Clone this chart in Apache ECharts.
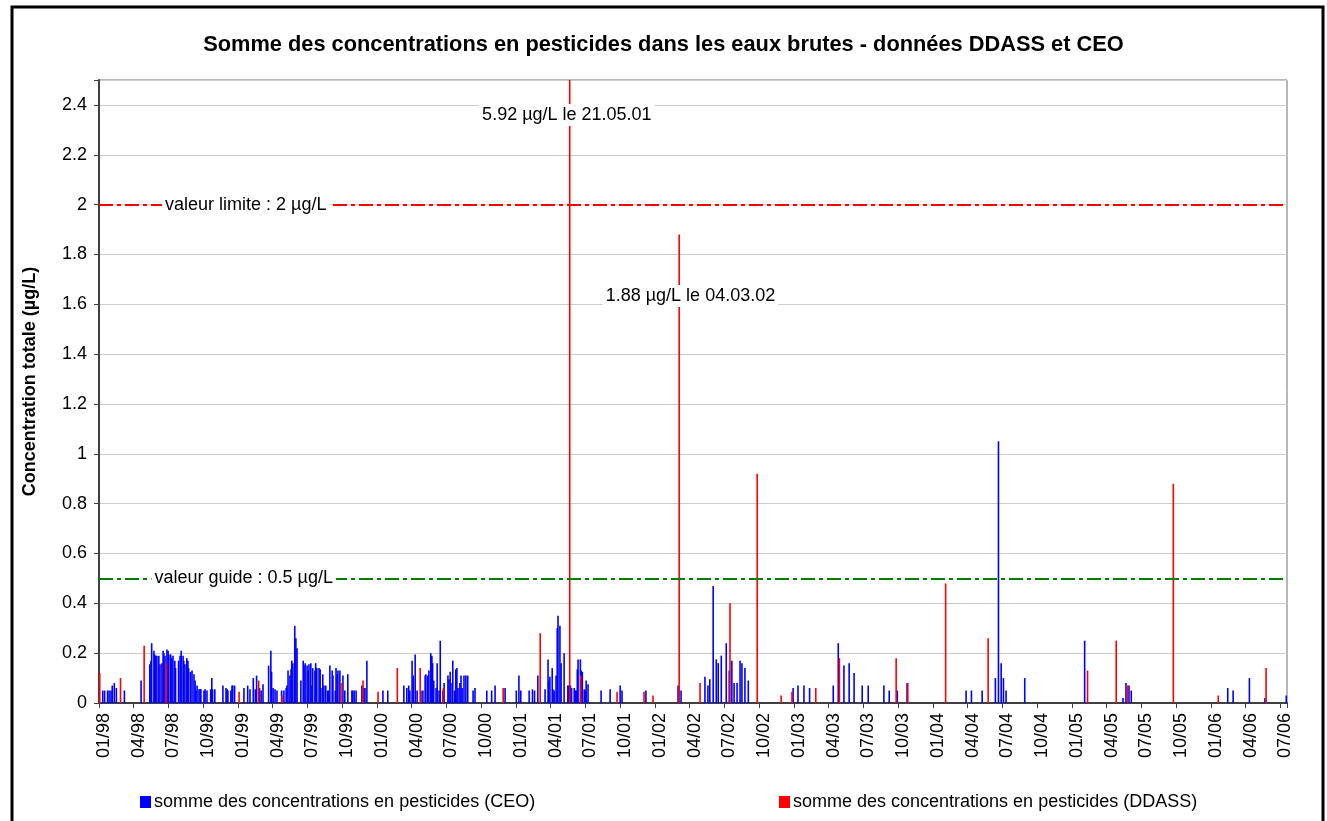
<!DOCTYPE html>
<html>
<head>
<meta charset="utf-8">
<script src="https://cdn.jsdelivr.net/npm/echarts@6/dist/echarts.min.js"></script>
<style>
  html, body { margin: 0; padding: 0; background: #fff; }
  #chart { width: 1327px; height: 821px; }
</style>
</head>
<body>
<div id="chart"></div>
<script>
// sampling dates / summed concentrations (µg/L)
const ceoDates = [
  '1998-01-11','1998-01-16','1998-01-24','1998-01-28','1998-02-02','1998-02-05','1998-02-10','1998-02-15','1998-03-07','1998-04-20',
  '1998-05-13','1998-05-16','1998-05-18','1998-05-24','1998-05-26','1998-05-29','1998-06-01','1998-06-06','1998-06-09','1998-06-14',
  '1998-06-17','1998-06-19','1998-06-22','1998-06-27','1998-06-30','1998-07-02','1998-07-07','1998-07-10','1998-07-13','1998-07-18',
  '1998-07-20','1998-07-28','1998-08-01','1998-08-04','1998-08-09','1998-08-11','1998-08-14','1998-08-19','1998-08-22','1998-08-24',
  '1998-08-29','1998-09-02','1998-09-07','1998-09-10','1998-09-12','1998-09-15','1998-09-20','1998-09-23','1998-09-25','1998-10-03',
  '1998-10-06','1998-10-11','1998-10-21','1998-10-24','1998-10-26','1998-11-01','1998-11-22','1998-11-30','1998-12-03','1998-12-05',
  '1998-12-13','1998-12-16','1998-12-18','1998-12-23','1999-01-17','1999-01-27','1999-02-02','1999-02-10','1999-02-15','1999-02-18',
  '1999-02-25','1999-03-01','1999-03-06','1999-03-21','1999-03-27','1999-03-29','1999-04-02','1999-04-07','1999-04-12','1999-04-24',
  '1999-04-30','1999-05-06','1999-05-08','1999-05-11','1999-05-16','1999-05-19','1999-05-21','1999-05-24','1999-05-29','1999-06-01',
  '1999-06-04','1999-06-14','1999-06-20','1999-06-22','1999-06-25','1999-06-30','1999-07-03','1999-07-05','1999-07-10','1999-07-13',
  '1999-07-15','1999-07-21','1999-07-23','1999-07-26','1999-08-01','1999-08-04','1999-08-06','1999-08-11','1999-08-14','1999-08-19',
  '1999-08-24','1999-08-27','1999-08-30','1999-09-05','1999-09-07','1999-09-13','1999-09-15','1999-09-18','1999-09-20','1999-09-25',
  '1999-10-03','1999-10-08','1999-10-16','1999-10-27','1999-10-29','1999-11-02','1999-11-07','1999-11-22','1999-11-27','1999-11-30',
  '1999-12-05','2000-01-17','2000-01-30','2000-03-11','2000-03-19','2000-03-24','2000-03-27','2000-04-02','2000-04-05','2000-04-10',
  '2000-04-15','2000-04-25','2000-04-30','2000-05-06','2000-05-08','2000-05-13','2000-05-16','2000-05-21','2000-05-24','2000-05-26',
  '2000-05-29','2000-06-04','2000-06-07','2000-06-12','2000-06-15','2000-06-22','2000-06-25','2000-07-05','2000-07-08','2000-07-11',
  '2000-07-16','2000-07-18','2000-07-23','2000-07-26','2000-07-29','2000-08-01','2000-08-06','2000-08-09','2000-08-12','2000-08-17',
  '2000-08-22','2000-08-27','2000-09-10','2000-09-15','2000-10-16','2000-10-29','2000-11-07','2000-12-03','2001-01-02','2001-01-09',
  '2001-01-14','2001-02-05','2001-02-13','2001-02-18','2001-02-26','2001-03-17','2001-03-25','2001-03-27','2001-03-30','2001-04-05',
  '2001-04-07','2001-04-10','2001-04-15','2001-04-18','2001-04-20','2001-04-25','2001-04-28','2001-05-06','2001-05-16','2001-05-18',
  '2001-05-23','2001-05-26','2001-06-02','2001-06-05','2001-06-07','2001-06-10','2001-06-12','2001-06-18','2001-06-20','2001-06-23',
  '2001-06-28','2001-07-01','2001-07-03','2001-07-08','2001-08-12','2001-09-05','2001-10-01','2001-10-06','2001-12-08','2002-03-01',
  '2002-03-09','2002-05-11','2002-05-19','2002-05-24','2002-06-02','2002-06-10','2002-06-15','2002-06-23','2002-07-06','2002-07-14',
  '2002-07-21','2002-07-27','2002-08-04','2002-08-12','2002-08-17','2002-08-25','2002-09-03','2002-12-30','2003-01-12','2003-01-28',
  '2003-02-11','2003-04-13','2003-04-26','2003-05-11','2003-05-25','2003-06-07','2003-06-28','2003-07-14','2003-08-25','2003-09-08',
  '2003-09-29','2003-10-25','2004-03-28','2004-04-11','2004-05-09','2004-06-13','2004-06-21','2004-06-28','2004-07-04','2004-07-11',
  '2004-08-30','2005-02-04','2005-05-14','2005-05-22','2005-05-30','2005-06-05','2006-02-14','2006-02-27','2006-04-11','2006-05-22',
  '2006-07-17'
];
const ceoValues = [
  0.05, 0.05, 0.05, 0.05, 0.05, 0.07, 0.08, 0.06, 0.05, 0.09,
  0.155, 0.17, 0.24, 0.21, 0.195, 0.19, 0.19, 0.19, 0.155, 0.16,
  0.21, 0.20, 0.19, 0.215, 0.21, 0.195, 0.195, 0.18, 0.19, 0.17,
  0.14, 0.17, 0.19, 0.21, 0.19, 0.17, 0.155, 0.18, 0.17, 0.14,
  0.125, 0.13, 0.115, 0.09, 0.05, 0.07, 0.055, 0.055, 0.055, 0.05,
  0.055, 0.05, 0.055, 0.10, 0.055, 0.055, 0.07, 0.06, 0.055, 0.05,
  0.05, 0.07, 0.07, 0.07, 0.06, 0.07, 0.055, 0.10, 0.055, 0.11,
  0.06, 0.05, 0.075, 0.15, 0.21, 0.125, 0.06, 0.055, 0.05, 0.05,
  0.05, 0.06, 0.07, 0.13, 0.11, 0.135, 0.17, 0.16, 0.31, 0.26,
  0.22, 0.09, 0.17, 0.15, 0.16, 0.15, 0.13, 0.155, 0.16, 0.07,
  0.14, 0.13, 0.16, 0.14, 0.14, 0.135, 0.06, 0.115, 0.07, 0.07,
  0.05, 0.05, 0.15, 0.13, 0.11, 0.05, 0.14, 0.115, 0.13, 0.13,
  0.11, 0.05, 0.115, 0.05, 0.05, 0.05, 0.05, 0.07, 0.06, 0.06,
  0.17, 0.05, 0.05, 0.07, 0.06, 0.07, 0.05, 0.17, 0.11, 0.195,
  0.05, 0.05, 0.05, 0.11, 0.115, 0.11, 0.13, 0.20, 0.19, 0.16,
  0.09, 0.06, 0.16, 0.05, 0.25, 0.05, 0.08, 0.11, 0.095, 0.125,
  0.08, 0.17, 0.05, 0.135, 0.14, 0.06, 0.08, 0.11, 0.06, 0.11,
  0.11, 0.11, 0.05, 0.06, 0.05, 0.05, 0.07, 0.06, 0.05, 0.11,
  0.05, 0.05, 0.055, 0.05, 0.11, 0.055, 0.175, 0.09, 0.105, 0.14,
  0.055, 0.05, 0.11, 0.30, 0.35, 0.31, 0.16, 0.20, 0.07, 0.07,
  0.07, 0.06, 0.06, 0.05, 0.05, 0.135, 0.175, 0.175, 0.13, 0.125,
  0.055, 0.05, 0.09, 0.075, 0.05, 0.055, 0.07, 0.05, 0.05, 0.07,
  0.05, 0.105, 0.07, 0.095, 0.47, 0.175, 0.16, 0.19, 0.24, 0.13,
  0.17, 0.08, 0.08, 0.17, 0.16, 0.14, 0.09, 0.06, 0.07, 0.07,
  0.06, 0.07, 0.24, 0.15, 0.16, 0.12, 0.07, 0.07, 0.07, 0.05,
  0.05, 0.08, 0.05, 0.05, 0.05, 0.10, 1.05, 0.16, 0.10, 0.05,
  0.10, 0.25, 0.02, 0.08, 0.07, 0.05, 0.06, 0.05, 0.10, 0.02,
  0.03
];
const ddassDates = [
  '1998-01-03','1998-02-25','1998-04-28','1998-06-25','1999-01-04','1999-02-23','1999-04-25','1999-09-28','1999-11-25','2000-01-04',
  '2000-02-23','2000-04-23','2000-06-23','2000-11-28','2001-03-04','2001-05-21','2001-06-19','2001-09-23','2001-12-03','2001-12-27',
  '2002-03-04','2002-04-28','2002-07-16','2002-09-26','2002-11-28','2002-12-27','2003-02-26','2003-04-29','2003-09-26','2003-10-27',
  '2004-02-04','2004-05-25','2005-02-11','2005-04-26','2005-05-27','2005-09-24','2006-01-21','2006-05-25'
];
const ddassValues = [
  0.12, 0.10, 0.23, 0.16, 0.045, 0.09, 0.03, 0.08, 0.09, 0.045,
  0.14, 0.14, 0.06, 0.06, 0.28, 5.92, 0.11, 0.045, 0.045, 0.03,
  1.88, 0.08, 0.40, 0.92, 0.03, 0.045, 0.06, 0.18, 0.18, 0.08,
  0.48, 0.26, 0.13, 0.25, 0.07, 0.88, 0.03, 0.14
];
const axisStart = '1998-01-01';
const axisEnd = '2006-07-19';
const yTicks = { min: 0, max: 2.5, step: 0.2 };
const limitValue = 2;
const guideValue = 0.5;

const ceoName = 'somme des concentrations en pesticides (CEO)';
const ddassName = 'somme des concentrations en pesticides (DDASS)';
const FONT = 'Liberation Sans, Arial, sans-serif';

// months since 01/98, fractional within the month
function monthIdx(s) {
  const [y, m, d] = s.split('-').map(Number);
  const dim = new Date(Date.UTC(y, m, 0)).getUTCDate();
  return (y - 1998) * 12 + (m - 1) + (d - 1) / dim;
}
const pad = n => (n < 10 ? '0' : '') + n;

const ceoData = ceoDates.map((d, i) => [monthIdx(d), ceoValues[i]]);
const ddassData = ddassDates.map((d, i) => [monthIdx(d), ddassValues[i]]);

const noteLabel = {
  show: true, position: 'inside', color: '#000', fontSize: 18, fontFamily: FONT,
  backgroundColor: '#fff', padding: [2, 3], formatter: p => p.name
};

const chart = echarts.init(document.getElementById('chart'), null, { renderer: 'canvas' });
chart.setOption({
  animation: false,
  backgroundColor: '#fff',
  textStyle: { fontFamily: FONT },
  title: {
    text: 'Somme des concentrations en pesticides dans les eaux brutes - données DDASS et CEO',
    left: 'center', top: 29,
    textStyle: { fontSize: 21.8, fontWeight: 'bold', color: '#000', fontFamily: FONT }
  },
  graphic: [{
    type: 'rect', silent: true,
    shape: { x: 12, y: 7, width: 1311, height: 840 },
    style: { fill: 'none', stroke: '#000', lineWidth: 3 }
  }],
  legend: [
    { data: [ceoName], left: 135, top: 788, icon: 'rect', itemWidth: 11, itemHeight: 12, itemGap: 4,
      textStyle: { fontSize: 18, color: '#000', fontFamily: FONT, padding: [0, 0, 0, -2] } },
    { data: [ddassName], left: 774, top: 788, icon: 'rect', itemWidth: 11, itemHeight: 12, itemGap: 4,
      textStyle: { fontSize: 18, color: '#000', fontFamily: FONT, padding: [0, 0, 0, -2] } }
  ],
  grid: { left: 99, right: 40, top: 80, bottom: 118, show: true, borderColor: '#707070', borderWidth: 1 },
  xAxis: {
    type: 'value',
    min: monthIdx(axisStart), max: monthIdx(axisEnd), interval: 3,
    splitLine: { show: false },
    axisLine: { lineStyle: { color: '#404040', width: 2 } },
    axisTick: { length: 5, lineStyle: { color: '#404040', width: 1 } },
    axisLabel: {
      rotate: 90, margin: 10, fontSize: 18, color: '#000', fontFamily: FONT,
      verticalAlign: 'top', lineHeight: 10,
      formatter: v => {
        if (Math.abs(v - Math.round(v)) > 1e-6) return '';
        const m = Math.round(v);
        return pad(m % 12 + 1) + '/' + pad((1998 + Math.floor(m / 12)) % 100);
      }
    }
  },
  yAxis: {
    type: 'value', min: yTicks.min, max: yTicks.max, interval: yTicks.step,
    name: 'Concentration totale (µg/L)', nameLocation: 'middle', nameGap: 60, nameRotate: 90,
    nameTextStyle: { fontSize: 18, fontWeight: 'bold', color: '#000', fontFamily: FONT, padding: [0, 0, 0, 20] },
    axisLine: { show: true, lineStyle: { color: '#404040', width: 2 } },
    axisTick: { show: true, length: 5, lineStyle: { color: '#404040' } },
    splitLine: { lineStyle: { color: '#cccccc', width: 1 } },
    axisLabel: {
      margin: 12, fontSize: 18, color: '#000', fontFamily: FONT,
      formatter: v => (v > 2.45 ? '' : String(+v.toFixed(1)))
    }
  },
  series: [
    {
      name: ceoName, type: 'bar', data: ceoData,
      barWidth: 1.6, barGap: '-100%',
      itemStyle: { color: '#0000ff' }, z: 2
    },
    {
      name: ddassName, type: 'bar', data: ddassData,
      barWidth: 1.6, barGap: '-100%',
      itemStyle: { color: '#ff0000' }, z: 2
    },
    {
      // reference lines and their notes
      name: 'notes', type: 'line', data: [], z: 4, silent: true,
      markLine: {
        silent: true, symbol: 'none', label: { show: false },
        data: [
          { yAxis: limitValue, lineStyle: { color: '#ff0000', width: 2, type: [14, 4, 4, 4] } },
          { yAxis: guideValue, lineStyle: { color: '#008000', width: 2, type: [14, 4, 4, 4] } }
        ]
      },
      markPoint: {
        silent: true, symbol: 'rect', symbolSize: 1, itemStyle: { color: 'rgba(0,0,0,0)' },
        label: noteLabel,
        data: [
          { name: 'valeur limite : 2 µg/L', coord: [12.67, limitValue] },
          { name: 'valeur guide : 0.5 µg/L', coord: [12.5, guideValue] },
          { name: '5.92 µg/L le 21.05.01', coord: [40.4, 2.36] },
          { name: '1.88 µg/L le 04.03.02', coord: [51.07, 1.633] }
        ]
      }
    }
  ]
});
</script>
</body>
</html>
